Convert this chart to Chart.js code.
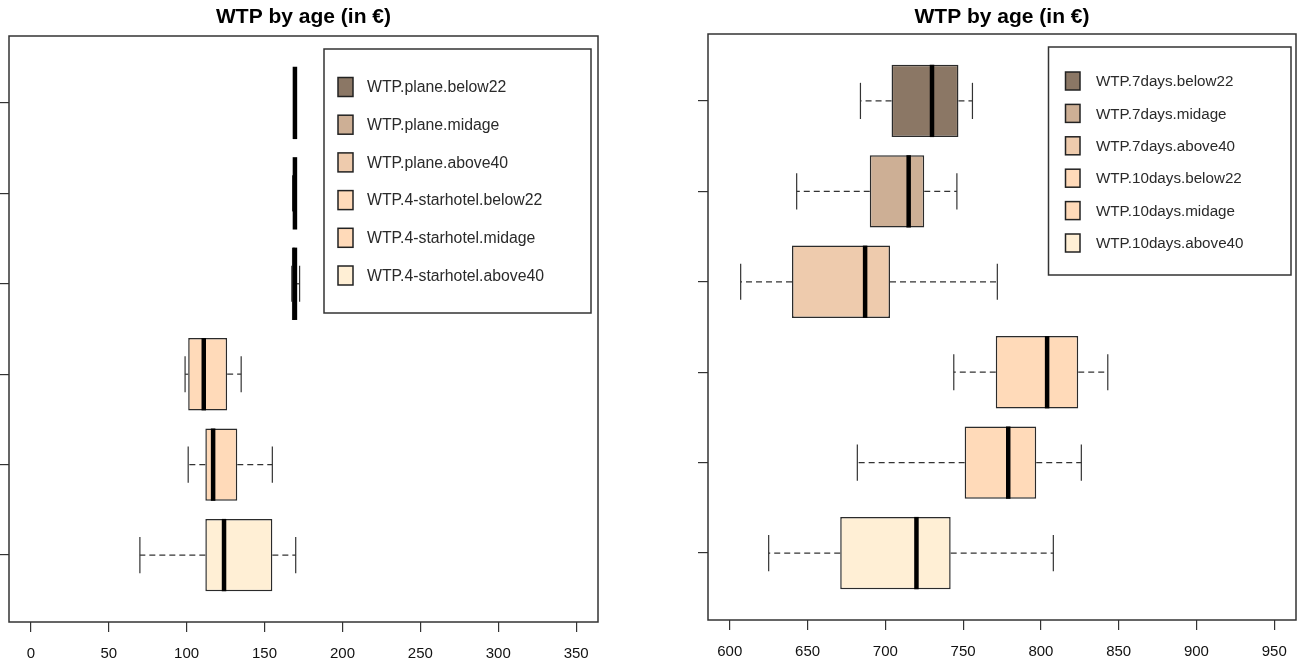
<!DOCTYPE html>
<html>
<head>
<meta charset="utf-8">
<title>WTP by age</title>
<script src="https://cdn.jsdelivr.net/npm/chart.js@4.4.1/dist/chart.umd.min.js"></script>
<style>
  body { margin: 0; background: #fff; }
  #wrap { position: relative; width: 1298px; height: 670px; }
  canvas { position: absolute; top: 0; }
  #left { left: 0; }
  #right { left: 649px; }
</style>
</head>
<body>
<div id="wrap">
  <canvas id="left" width="649" height="670"></canvas>
  <canvas id="right" width="649" height="670"></canvas>
</div>
<script>
// rows from top to bottom (y position 6 .. 1)
var rowPos = [6, 5, 4, 3, 2, 1];
var boxColors = ['#8B7765', '#CDAF95', '#EECBAD', '#FFDAB9', '#FFDAB9', '#FFEFD5'];

// left panel: plane / 4-star hotel
var planeLabels = ['WTP.plane.below22', 'WTP.plane.midage', 'WTP.plane.above40',
  'WTP.4-starhotel.below22', 'WTP.4-starhotel.midage', 'WTP.4-starhotel.above40'];
var planeMin = [169.5, 168, 167.5, 99, 101, 70];
var planeQ1 = [169.5, 169.5, 167.5, 101, 112, 112];
var planeMed = [169.5, 169.5, 169.5, 111, 117, 124];
var planeQ3 = [169.5, 169.5, 169.5, 126, 132.5, 155];
var planeMax = [169.5, 169.5, 172.5, 135, 155, 170];
var planeTicks = [0, 50, 100, 150, 200, 250, 300, 350];

// right panel: 7 days / 10 days
var daysLabels = ['WTP.7days.below22', 'WTP.7days.midage', 'WTP.7days.above40',
  'WTP.10days.below22', 'WTP.10days.midage', 'WTP.10days.above40'];
var daysMin = [684, 643, 607, 744, 682, 625];
var daysQ1 = [704, 690, 640, 771, 751, 671];
var daysMed = [730, 715, 687, 804, 779, 720];
var daysQ3 = [747, 725, 703, 824, 797, 742];
var daysMax = [756, 746, 772, 843, 826, 808];
var daysTicks = [600, 650, 700, 750, 800, 850, 900, 950];

var titleText = 'WTP by age (in \u20AC)';
var fontFamily = '"Liberation Sans", Arial, sans-serif';

Chart.defaults.font.family = fontFamily;

function line(ctx, x1, y1, x2, y2) {
  ctx.beginPath();
  ctx.moveTo(x1, y1);
  ctx.lineTo(x2, y2);
  ctx.stroke();
}

var boxplotExtras = {
  id: 'boxplotExtras',
  afterDatasetsDraw: function(chart, args, opts) {
    var ctx = chart.ctx;
    var xs = chart.scales.x, ys = chart.scales.y;
    var bars = chart.getDatasetMeta(0).data;
    ctx.save();
    for (var i = 0; i < opts.med.length; i++) {
      var cy = ys.getPixelForValue(rowPos[i]);
      var h = bars[i].height;
      var lo = xs.getPixelForValue(opts.min[i]);
      var q1 = xs.getPixelForValue(opts.q1[i]);
      var q3 = xs.getPixelForValue(opts.q3[i]);
      var hi = xs.getPixelForValue(opts.max[i]);
      var md = xs.getPixelForValue(opts.med[i]);
      ctx.strokeStyle = '#333';
      ctx.lineWidth = 1.2;
      ctx.setLineDash([6, 4]);
      if (q1 - lo > 1) line(ctx, q1, cy, lo, cy);
      if (hi - q3 > 1) line(ctx, q3, cy, hi, cy);
      ctx.setLineDash([]);
      line(ctx, lo, cy - h / 4, lo, cy + h / 4);
      line(ctx, hi, cy - h / 4, hi, cy + h / 4);
      ctx.strokeStyle = '#000';
      ctx.lineWidth = 4.5;
      line(ctx, md, cy - h / 2, md, cy + h / 2);
    }

    // plot frame
    var a = chart.chartArea;
    ctx.strokeStyle = '#333';
    ctx.lineWidth = 1.5;
    ctx.strokeRect(a.left, a.top, a.right - a.left, a.bottom - a.top);

    // title
    ctx.fillStyle = '#000';
    ctx.font = 'bold 21px ' + fontFamily;
    ctx.textAlign = 'center';
    ctx.textBaseline = 'middle';
    ctx.fillText(titleText, (a.left + a.right) / 2, 17);

    // legend
    var lg = opts.legend;
    ctx.lineWidth = 1.5;
    ctx.strokeStyle = '#333';
    ctx.strokeRect(lg.x, lg.y, lg.w, lg.h);
    ctx.font = lg.size + 'px ' + fontFamily;
    ctx.textAlign = 'left';
    for (var j = 0; j < opts.labels.length; j++) {
      var ry = lg.row0 + j * lg.step;
      ctx.fillStyle = boxColors[j];
      ctx.fillRect(lg.sx, ry - lg.sh / 2, lg.sw, lg.sh);
      ctx.strokeStyle = '#222';
      ctx.lineWidth = 1.5;
      ctx.strokeRect(lg.sx, ry - lg.sh / 2, lg.sw, lg.sh);
      ctx.fillStyle = '#2a2a2a';
      ctx.fillText(opts.labels[j], lg.tx, ry + 1);
    }
    ctx.restore();
  }
};

function makePanel(id, labels, mins, q1s, meds, q3s, maxs, ticks, xMin, xMax, pad, legend) {
  var ctx = document.getElementById(id);
  new Chart(ctx, {
    type: 'bar',
    data: {
      datasets: [{
        data: rowPos.map(function(p, i) { return { x: [q1s[i], q3s[i]], y: p }; }),
        backgroundColor: boxColors,
        borderColor: '#2b2b2b',
        borderWidth: 1.5,
        borderSkipped: false,
        categoryPercentage: 0.8,
        barPercentage: 1
      }]
    },
    options: {
      indexAxis: 'y',
      responsive: false,
      animation: false,
      events: [],
      layout: { padding: { left: 0, right: pad.right, top: pad.top, bottom: 0 } },
      scales: {
        x: {
          type: 'linear',
          min: xMin,
          max: xMax,
          afterBuildTicks: function(s) { s.ticks = ticks.map(function(v) { return { value: v }; }); },
          afterFit: function(s) { s.height = pad.bottom; s.paddingRight = 0; },
          ticks: { color: '#111', font: { size: 15 }, padding: 13, maxRotation: 0, autoSkip: false },
          grid: { drawOnChartArea: false, drawTicks: true, tickLength: 10, color: '#333', lineWidth: 1.2 },
          border: { display: false }
        },
        y: {
          type: 'linear',
          offset: false,
          min: 0.26,
          max: 6.74,
          afterBuildTicks: function(s) { s.ticks = rowPos.map(function(v) { return { value: v }; }); },
          afterFit: function(s) { s.width = pad.left; },
          ticks: { callback: function() { return ''; } },
          grid: { offset: false, drawOnChartArea: false, drawTicks: true, tickLength: 10, color: '#333', lineWidth: 1.2 },
          border: { display: false }
        }
      },
      plugins: {
        legend: { display: false },
        title: { display: false },
        tooltip: { enabled: false },
        boxplotExtras: {
          min: mins, q1: q1s, med: meds, q3: q3s, max: maxs,
          labels: labels,
          legend: legend
        }
      }
    },
    plugins: [boxplotExtras]
  });
}

makePanel('left', planeLabels, planeMin, planeQ1, planeMed, planeQ3, planeMax, planeTicks, -14, 364,
  { left: 9, right: 51, top: 36, bottom: 48 },
  { x: 324, y: 49, w: 267, h: 264, sx: 338, sw: 15, sh: 19, tx: 367, row0: 87, step: 37.7, size: 15.8 });

makePanel('right', daysLabels, daysMin, daysQ1, daysMed, daysQ3, daysMax, daysTicks, 586, 964,
  { left: 59, right: 2, top: 34, bottom: 50 },
  { x: 399.5, y: 47, w: 242.5, h: 228, sx: 416.5, sw: 14.5, sh: 18, tx: 447, row0: 81, step: 32.4, size: 15.2 });
</script>
</body>
</html>
